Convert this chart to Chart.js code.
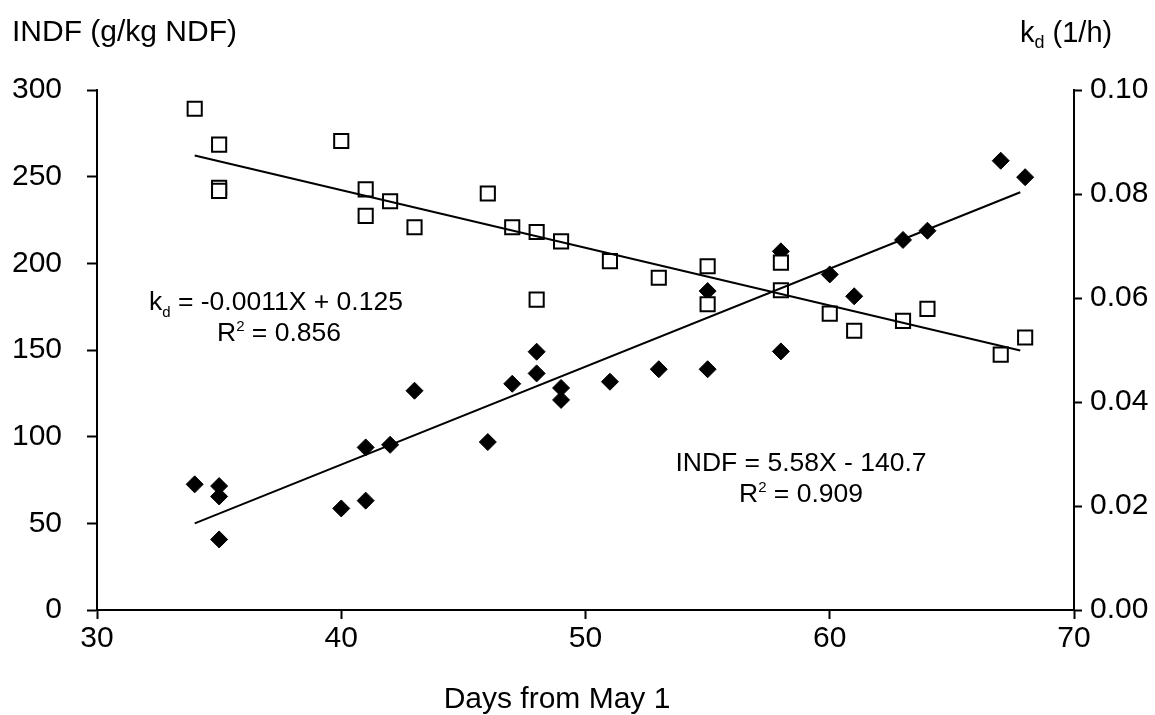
<!DOCTYPE html>
<html>
<head>
<meta charset="utf-8">
<title>INDF and kd vs days</title>
<script src="https://cdn.jsdelivr.net/npm/chart.js@4.4.0/dist/chart.umd.min.js"></script>
<style>
  html, body { margin: 0; padding: 0; background: #fff; }
  #wrap { width: 1155px; height: 715px; }
</style>
</head>
<body>
<div id="wrap"><canvas id="chart" width="1155" height="715"></canvas></div>
<script>
// INDF (g/kg NDF), filled diamonds, left axis
const indfDays = [34, 35, 35, 35, 40, 41, 41, 42, 43, 46, 47, 48, 48, 49, 49,
                  51, 53, 55, 55, 58, 58, 60, 61, 63, 64, 67, 68];
const indfValues = [72.5, 71.5, 65.5, 40.7, 58.6, 63.1, 93.8, 95.3, 126.5, 96.9, 130.5, 149, 136.5, 128.1, 121.2,
                    131.7, 138.9, 138.9, 184, 206.9, 149.2, 193.6, 181, 213.5, 218.8, 259.2, 249.7];

// kd (1/h), open squares, right axis
const kdDays = [34, 35, 35, 35, 40, 41, 41, 42, 43, 46, 47, 48, 48, 49,
                51, 53, 55, 55, 58, 58, 60, 61, 63, 64, 67, 68];
const kdValues = [0.0964, 0.0895, 0.0812, 0.0806, 0.0902, 0.0809, 0.0758, 0.0786, 0.0736, 0.0801, 0.0736, 0.0727, 0.0597, 0.0709,
                  0.0671, 0.0639, 0.0661, 0.0588, 0.0668, 0.0615, 0.0570, 0.0537, 0.0556, 0.0579, 0.0491, 0.0524];

// regression line end points (as drawn)
const trendDays = [34, 67.8];
const indfTrend = [50, 241];
const kdTrend = [0.0874, 0.0499];

const FONT = '"Liberation Sans", Arial, Helvetica, sans-serif';

function toPoints(xs, ys) {
    return xs.map((x, i) => ({ x: x, y: ys[i] }));
}

// draw a line of text made of parts [text, size, dy]
function drawRich(ctx, parts, x, y, align) {
    let total = 0;
    parts.forEach(p => {
        ctx.font = p[1] + 'px ' + FONT;
        total += ctx.measureText(p[0]).width;
    });
    let cx = align === 'center' ? x - total / 2 : x;
    parts.forEach(p => {
        ctx.font = p[1] + 'px ' + FONT;
        ctx.fillText(p[0], cx, y + (p[2] || 0));
        cx += ctx.measureText(p[0]).width;
    });
}

const textPlugin = {
    id: 'texts',
    afterDraw(chart) {
        const ctx = chart.ctx;
        ctx.save();
        ctx.fillStyle = '#000';
        ctx.textBaseline = 'alphabetic';
        ctx.textAlign = 'left';
        drawRich(ctx, [['INDF (g/kg NDF)', 30]], 12, 41, 'left');
        drawRich(ctx, [['k', 29], ['d', 18, 6], [' (1/h)', 29]], 1020, 42, 'left');
        drawRich(ctx, [['k', 26.5], ['d', 15, 7], [' = -0.0011X + 0.125', 26.5]], 149, 310, 'left');
        drawRich(ctx, [['R', 26.5], ['2', 15, -10], [' = 0.856', 26.5]], 279, 341, 'center');
        drawRich(ctx, [['INDF = 5.58X - 140.7', 26.5]], 801, 471, 'center');
        drawRich(ctx, [['R', 26.5], ['2', 15, -10], [' = 0.909', 26.5]], 801, 502, 'center');
        drawRich(ctx, [['Days from May 1', 30]], 557, 708, 'center');
        ctx.restore();
    }
};

function axisStyle(tickLen) {
    return {
        grid: { drawOnChartArea: false, drawTicks: true, tickLength: tickLen, tickWidth: 2, tickColor: '#000' },
        border: { display: true, color: '#000', width: 2 }
    };
}

const ctx = document.getElementById('chart').getContext('2d');
new Chart(ctx, {
    type: 'scatter',
    data: {
        datasets: [
            {
                label: 'INDF trend',
                data: toPoints(trendDays, indfTrend),
                yAxisID: 'y',
                showLine: true,
                borderColor: '#000',
                borderWidth: 2,
                pointRadius: 0,
                order: 0
            },
            {
                label: 'kd trend',
                data: toPoints(trendDays, kdTrend),
                yAxisID: 'y1',
                showLine: true,
                borderColor: '#000',
                borderWidth: 2,
                pointRadius: 0,
                order: 0
            },
            {
                label: 'kd',
                data: toPoints(kdDays, kdValues),
                yAxisID: 'y1',
                pointStyle: 'rect',
                pointRadius: 10,
                pointBorderWidth: 2,
                pointBorderColor: '#000',
                pointBackgroundColor: '#fff',
                order: 1
            },
            {
                label: 'INDF',
                data: toPoints(indfDays, indfValues),
                yAxisID: 'y',
                pointStyle: 'rectRot',
                pointRadius: 8.5,
                pointBorderWidth: 1,
                pointBorderColor: '#000',
                pointBackgroundColor: '#000',
                order: 2
            }
        ]
    },
    options: {
        responsive: false,
        animation: false,
        clip: false,
        layout: { padding: { top: 90, left: 0, right: 0, bottom: 0 } },
        plugins: {
            legend: { display: false },
            tooltip: { enabled: false }
        },
        scales: {
            x: {
                type: 'linear',
                min: 30,
                max: 70,
                ticks: { stepSize: 10, color: '#000', font: { family: FONT, size: 30 }, padding: 2 },
                ...axisStyle(9),
                afterFit(scale) { scale.height = 105; }
            },
            y: {
                position: 'left',
                min: 0,
                max: 300,
                ticks: { stepSize: 50, color: '#000', font: { family: FONT, size: 30 }, padding: 25 },
                ...axisStyle(10),
                afterFit(scale) { scale.width = 97; }
            },
            y1: {
                position: 'right',
                min: 0,
                max: 0.1,
                ticks: {
                    stepSize: 0.02,
                    color: '#000',
                    font: { family: FONT, size: 30 },
                    padding: 8,
                    callback: v => v.toFixed(2)
                },
                ...axisStyle(8),
                afterFit(scale) { scale.width = 81; }
            }
        }
    },
    plugins: [textPlugin]
});
</script>
</body>
</html>
